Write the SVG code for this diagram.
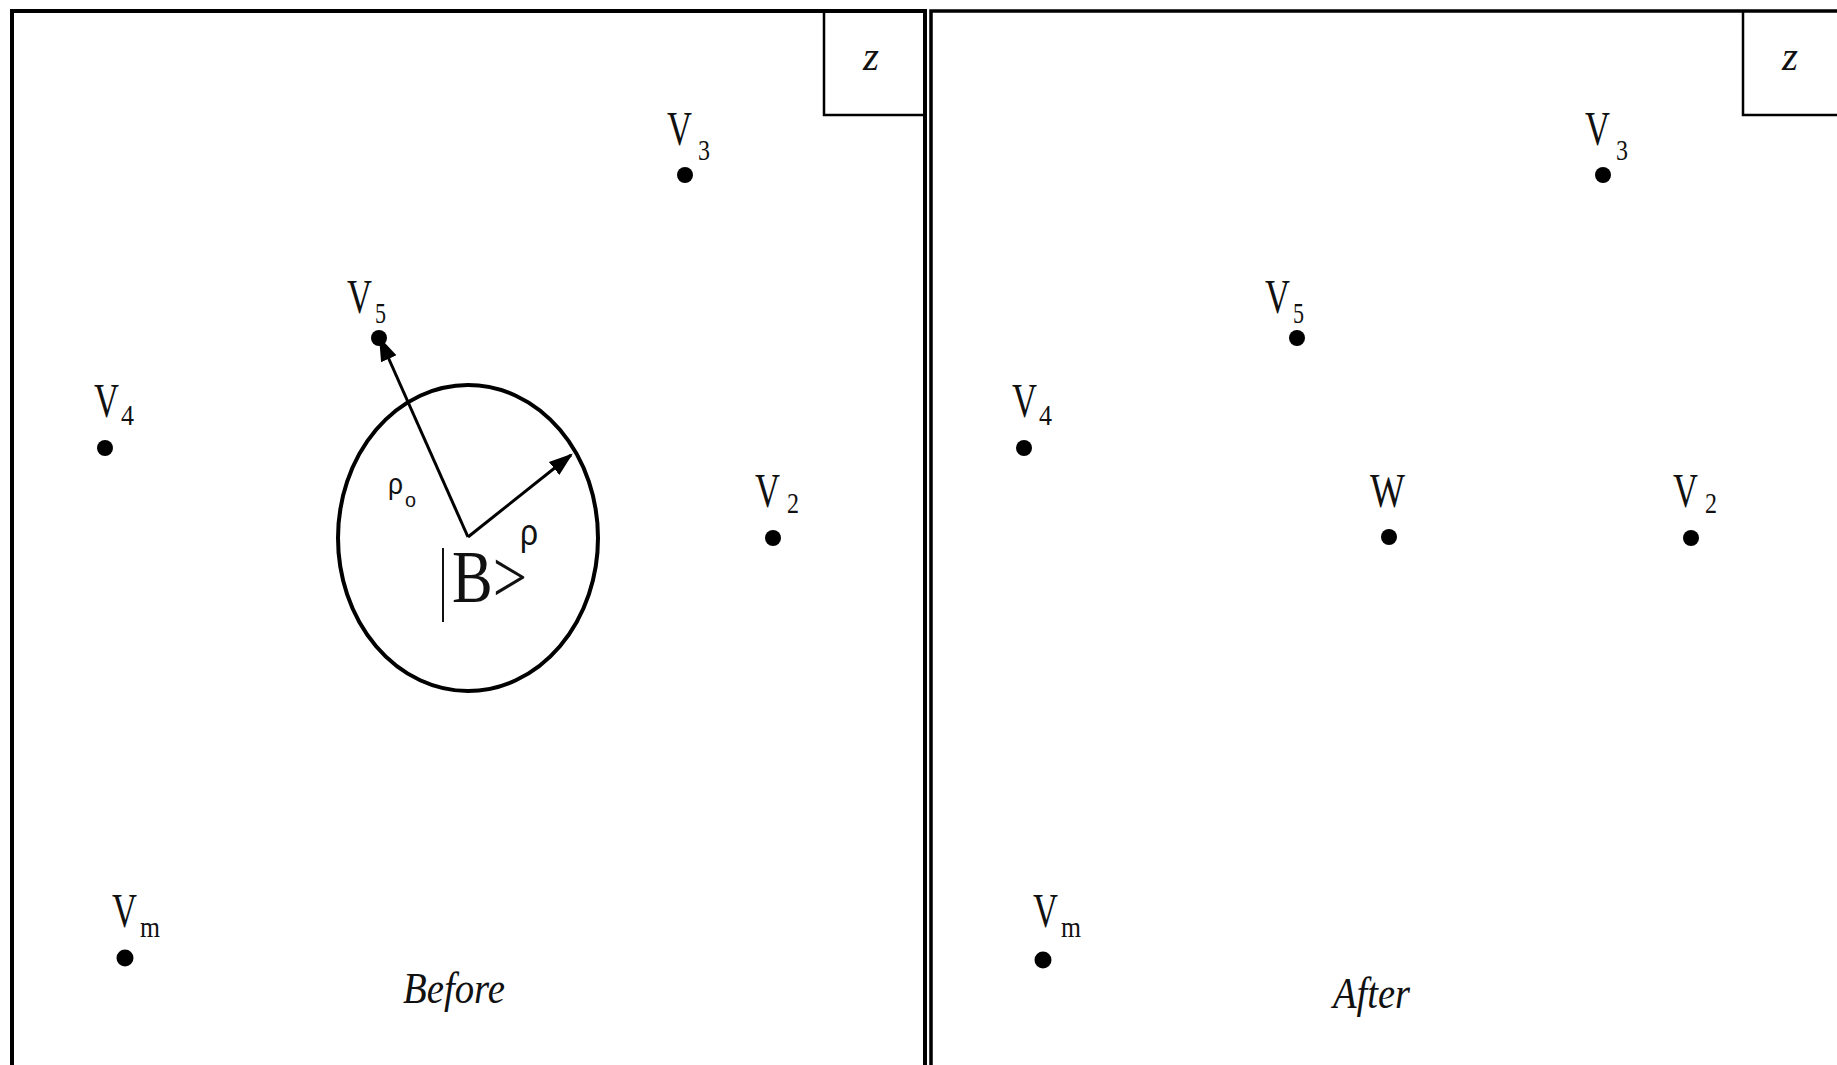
<svg xmlns="http://www.w3.org/2000/svg" width="1837" height="1065" viewBox="0 0 1837 1065">
<style>
.frame{fill:none;stroke:#000;stroke-width:4}
.thin{fill:none;stroke:#000;stroke-width:2.5}
.lbl{font-family:"Liberation Serif",serif;font-size:48px;fill:#111}
.sub{font-family:"Liberation Serif",serif;font-size:30px;fill:#111}
.z{font-family:"Liberation Serif",serif;font-size:42px;font-style:italic;fill:#111}
.cap{font-family:"Liberation Serif",serif;font-size:45px;font-style:italic;fill:#111}
.rho{font-family:"Liberation Sans",sans-serif;fill:#111}
.dot{fill:#000}
.arrow{stroke:#000;stroke-width:3;fill:none;marker-end:url(#ah)}
</style>
<defs>
<marker id="ah" viewBox="0 0 10 10" refX="9" refY="5" markerWidth="8" markerHeight="8" markerUnits="strokeWidth" orient="auto">
<path d="M0,1.5 L10,5 L0,8.5 Z" fill="#000"/>
</marker>
</defs>
<rect width="1837" height="1065" fill="#fff"/>

<g id="panel-before">
<path class="frame" d="M12,1065 V11 H927"/>
<path class="frame" d="M925,11 V1065"/>
<path class="thin" d="M824,11 V115 H925"/>
<text class="z" x="863" y="70" textLength="16" lengthAdjust="spacingAndGlyphs">z</text>
<text class="cap" x="403" y="1003" textLength="102" lengthAdjust="spacingAndGlyphs">Before</text>
</g>

<g id="panel-after">
<path class="frame" d="M931,1065 V11 H1837" style="stroke-width:3.5"/>
<path class="thin" d="M1743,11 V115 H1837"/>
<text class="z" x="1782" y="70" textLength="16" lengthAdjust="spacingAndGlyphs">z</text>
<text class="cap" x="1333" y="1008" textLength="77" lengthAdjust="spacingAndGlyphs">After</text>
</g>

<g id="node-B">
<ellipse cx="468" cy="538" rx="130" ry="153" fill="none" stroke="#000" stroke-width="4"/>
<line x1="443" y1="548" x2="443" y2="622" stroke="#111" stroke-width="2"/>
<text class="lbl" x="452" y="602" style="font-size:74px" textLength="75" lengthAdjust="spacingAndGlyphs">B&gt;</text>
<text class="rho" x="388" y="494" style="font-size:30px" textLength="15" lengthAdjust="spacingAndGlyphs">ρ</text>
<text class="rho" x="405" y="507" style="font-size:20px" textLength="11" lengthAdjust="spacingAndGlyphs">o</text>
<text class="rho" x="520" y="545" style="font-size:36px" textLength="18" lengthAdjust="spacingAndGlyphs">ρ</text>
</g>

<g id="connectors">
<line class="arrow" x1="468" y1="537" x2="380" y2="339"/>
<line class="arrow" x1="468" y1="537" x2="571" y2="455"/>
</g>

<g id="L-V3"><circle class="dot" cx="685" cy="175" r="8"/><text class="lbl" x="667" y="145" textLength="25" lengthAdjust="spacingAndGlyphs">V</text><text class="sub" x="698" y="160" textLength="12" lengthAdjust="spacingAndGlyphs">3</text></g>
<g id="L-V5"><circle class="dot" cx="379" cy="338" r="8"/><text class="lbl" x="347" y="313" textLength="25" lengthAdjust="spacingAndGlyphs">V</text><text class="sub" x="375" y="323" textLength="11" lengthAdjust="spacingAndGlyphs">5</text></g>
<g id="L-V4"><circle class="dot" cx="105" cy="448" r="8"/><text class="lbl" x="94" y="417" textLength="25" lengthAdjust="spacingAndGlyphs">V</text><text class="sub" x="121" y="425" textLength="13" lengthAdjust="spacingAndGlyphs">4</text></g>
<g id="L-V2"><circle class="dot" cx="773" cy="538" r="8"/><text class="lbl" x="755" y="507" textLength="25" lengthAdjust="spacingAndGlyphs">V</text><text class="sub" x="787" y="513" textLength="12" lengthAdjust="spacingAndGlyphs">2</text></g>
<g id="L-Vm"><circle class="dot" cx="125" cy="958" r="8.5"/><text class="lbl" x="112" y="927" textLength="25" lengthAdjust="spacingAndGlyphs">V</text><text class="sub" x="140" y="937" textLength="20" lengthAdjust="spacingAndGlyphs">m</text></g>

<g id="R-V3"><circle class="dot" cx="1603" cy="175" r="8"/><text class="lbl" x="1585" y="145" textLength="25" lengthAdjust="spacingAndGlyphs">V</text><text class="sub" x="1616" y="160" textLength="12" lengthAdjust="spacingAndGlyphs">3</text></g>
<g id="R-V5"><circle class="dot" cx="1297" cy="338" r="8"/><text class="lbl" x="1265" y="313" textLength="25" lengthAdjust="spacingAndGlyphs">V</text><text class="sub" x="1293" y="323" textLength="11" lengthAdjust="spacingAndGlyphs">5</text></g>
<g id="R-V4"><circle class="dot" cx="1024" cy="448" r="8"/><text class="lbl" x="1012" y="417" textLength="25" lengthAdjust="spacingAndGlyphs">V</text><text class="sub" x="1039" y="425" textLength="13" lengthAdjust="spacingAndGlyphs">4</text></g>
<g id="R-V2"><circle class="dot" cx="1691" cy="538" r="8"/><text class="lbl" x="1673" y="507" textLength="25" lengthAdjust="spacingAndGlyphs">V</text><text class="sub" x="1705" y="513" textLength="12" lengthAdjust="spacingAndGlyphs">2</text></g>
<g id="R-W"><circle class="dot" cx="1389" cy="537" r="8"/><text class="lbl" x="1370" y="507" textLength="35" lengthAdjust="spacingAndGlyphs">W</text></g>
<g id="R-Vm"><circle class="dot" cx="1043" cy="960" r="8.5"/><text class="lbl" x="1033" y="927" textLength="25" lengthAdjust="spacingAndGlyphs">V</text><text class="sub" x="1061" y="937" textLength="20" lengthAdjust="spacingAndGlyphs">m</text></g>
</svg>
